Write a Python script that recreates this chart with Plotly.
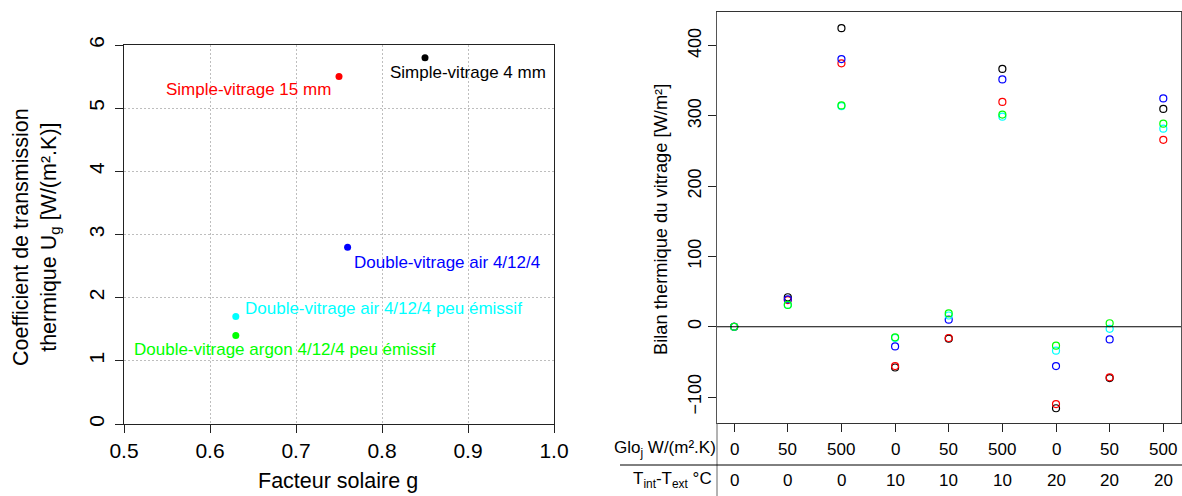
import plotly.graph_objects as go

# ---------------- data: left chart ----------------
glazing_names = ["Simple-vitrage 4 mm", "Simple-vitrage 15 mm", "Double-vitrage air 4/12/4",
                 "Double-vitrage air 4/12/4 peu émissif", "Double-vitrage argon 4/12/4 peu émissif"]
solar_factor_g = [0.85, 0.75, 0.76, 0.63, 0.63]
ug_values = [5.8, 5.5, 2.8, 1.7, 1.4]
series_colors = ["#000000", "#FF0000", "#0000FF", "#00FFFF", "#00FF00"]

# ---------------- data: right chart ----------------
glo_values = ["0", "50", "500", "0", "50", "500", "0", "50", "500"]
dt_values = ["0", "0", "0", "10", "10", "10", "20", "20", "20"]
bilan_simple4 = [0, 42, 425, -58, -17, 367, -116, -73, 310]
bilan_simple15 = [0, 38, 375, -56, -16, 320, -110, -72, 266]
bilan_double_air = [0, 39, 381, -28, 10, 352, -56, -18, 325]
bilan_double_air_pe = [0, 31, 314, -16, 16, 299, -34, -3, 282]
bilan_double_argon_pe = [0, 31, 315, -15, 19, 302, -27, 5, 289]
bilan_series = [bilan_simple4, bilan_simple15, bilan_double_air, bilan_double_air_pe, bilan_double_argon_pe]

W, H = 1182, 496
FONT = "Liberation Sans, Arial, sans-serif"


def px(x):
    return x / W


def py(y):
    return 1 - y / H


fig = go.Figure()

# left scatter
for name, g, u, c in zip(glazing_names, solar_factor_g, ug_values, series_colors):
    fig.add_trace(go.Scatter(x=[g], y=[u], mode="markers", name=name,
                             marker=dict(color=c, size=7, symbol="circle"),
                             xaxis="x", yaxis="y", showlegend=False))

# label placement (anchor side, x shift px, y shift px)
label_style = [("left", -37, -15), ("right", -6, -13), ("left", 4, -15),
               ("left", 7, 8), ("left", -104, -14)]
annotations = []
for name, g, u, c, (anc, dx, dy) in zip(glazing_names, solar_factor_g, ug_values, series_colors, label_style):
    annotations.append(dict(x=g, y=u, xref="x", yref="y", text=name, showarrow=False,
                            xanchor=anc, yanchor="middle", xshift=dx, yshift=dy,
                            font=dict(size=17, color=c, family=FONT)))

# right scatter
cond_x = list(range(1, len(glo_values) + 1))
for name, vals, c in zip(glazing_names, bilan_series, series_colors):
    fig.add_trace(go.Scatter(x=cond_x, y=vals, mode="markers", name=name,
                             marker=dict(color=c, size=7, symbol="circle-open",
                                         line=dict(color=c, width=1.2)),
                             xaxis="x2", yaxis="y2", showlegend=False))

# table beneath right chart
for xi, gl, dt in zip(cond_x, glo_values, dt_values):
    annotations.append(dict(x=xi, y=py(449), xref="x2", yref="paper", text=gl, showarrow=False,
                            xanchor="center", yanchor="middle", font=dict(size=17, color="black", family=FONT)))
    annotations.append(dict(x=xi, y=py(480), xref="x2", yref="paper", text=dt, showarrow=False,
                            xanchor="center", yanchor="middle", font=dict(size=17, color="black", family=FONT)))
annotations.append(dict(x=px(718), y=py(449), xref="paper", yref="paper", text="Glo<sub>j</sub> W/(m².K)",
                        showarrow=False, xanchor="right", yanchor="middle",
                        font=dict(size=17, color="black", family=FONT)))
annotations.append(dict(x=px(714), y=py(480), xref="paper", yref="paper",
                        text="T<sub>int</sub>-T<sub>ext</sub> °C",
                        showarrow=False, xanchor="right", yanchor="middle",
                        font=dict(size=17, color="black", family=FONT)))

# axis titles
annotations.append(dict(x=px(338), y=py(481), xref="paper", yref="paper", text="Facteur solaire g",
                        showarrow=False, xanchor="center", yanchor="middle",
                        font=dict(size=21.5, color="black", family=FONT)))
annotations.append(dict(x=px(36), y=py(237), xref="paper", yref="paper",
                        text="Coefficient de transmission<br>thermique U<sub>g</sub> [W/(m².K)]",
                        showarrow=False, xanchor="center", yanchor="middle", textangle=-90,
                        font=dict(size=21.5, color="black", family=FONT)))
annotations.append(dict(x=px(660), y=py(220), xref="paper", yref="paper",
                        text="Bilan thermique du vitrage [W/m²]",
                        showarrow=False, xanchor="center", yanchor="middle", textangle=-90,
                        font=dict(size=18.3, color="black", family=FONT)))

shapes = [
    dict(type="line", xref="paper", yref="paper", x0=px(717), x1=px(717), y0=py(423), y1=py(496),
         line=dict(color="#666", width=1)),
    dict(type="line", xref="paper", yref="paper", x0=px(620), x1=1, y0=py(465), y1=py(465),
         line=dict(color="black", width=1)),
    dict(type="line", xref="x2 domain", yref="y2", x0=0, x1=1, y0=0, y1=0,
         line=dict(color="black", width=1)),
]

axis_common = dict(showline=True, linewidth=1, mirror=True, ticks="outside",
                   ticklen=8, tickcolor="#222", zeroline=False, automargin=False)
left_font = dict(size=21, color="black", family=FONT)
right_font = dict(size=18, color="black", family=FONT)
grid_style = dict(showgrid=True, gridcolor="#BEBEBE", griddash="1.5px,2.5px", gridwidth=1)

fig.update_layout(
    width=W, height=H, margin=dict(l=0, r=0, t=0, b=0, autoexpand=False),
    plot_bgcolor="white", paper_bgcolor="white",
    xaxis=dict(domain=[px(124), px(554)], range=[0.5, 1.0], tickvals=[0.5, 0.6, 0.7, 0.8, 0.9, 1.0],
               ticktext=["0.5", "0.6", "0.7", "0.8", "0.9", "1.0"], tickfont=left_font,
               linecolor="#222", anchor="y", **grid_style, **axis_common),
    yaxis=dict(domain=[py(424), py(45)], range=[0, 6], tickvals=[0, 1, 2, 3, 4, 5, 6], tickangle=-90,
               tickfont=left_font, ticklabelstandoff=3, linecolor="#222", anchor="x",
               **grid_style, **axis_common),
    xaxis2=dict(domain=[px(717), px(1181)], range=[0.68, 9.33], tickvals=cond_x, showticklabels=False,
                showgrid=False, linecolor="#333", anchor="y2", **axis_common),
    yaxis2=dict(domain=[py(423), py(12)], range=[-137, 448], tickvals=[-100, 0, 100, 200, 300, 400],
                tickangle=-90, tickfont=right_font, showgrid=False, linecolor="#555", anchor="x2",
                **axis_common),
    annotations=annotations,
    shapes=shapes,
)

fig.write_html("out.html")
